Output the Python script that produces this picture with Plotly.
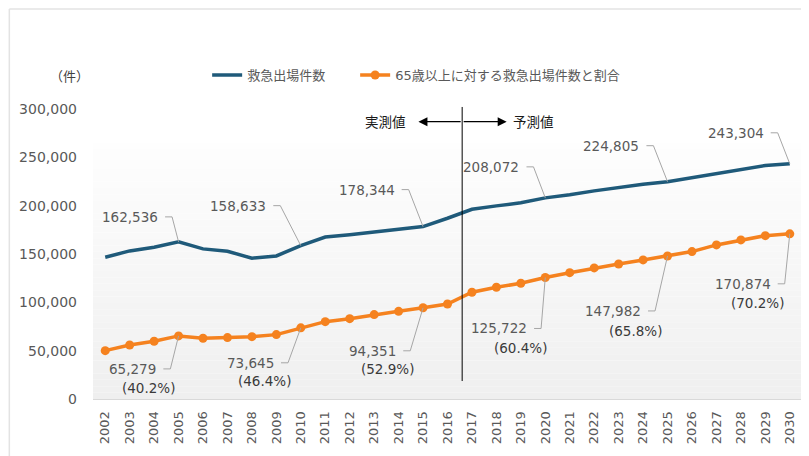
import plotly.graph_objects as go

# データ
years = list(range(2002, 2031))
total_calls = [146700, 153200, 157000, 162536, 155300, 152900, 145600, 148000, 158633, 167500,
               170000, 173000, 175600, 178344, 187000, 196300, 199800, 203000, 208072, 211200,
               215300, 219100, 222200, 224805, 229100, 233600, 238000, 241500, 243304]
elderly_calls = [50000, 55900, 59700, 65279, 62800, 63500, 64500, 66600, 73645, 80000,
                 83100, 87300, 90700, 94351, 98300, 110400, 115600, 119700, 125722, 130700,
                 135600, 139700, 143900, 147982, 152500, 159400, 164600, 169000, 170874]
label_years = [2005, 2010, 2015, 2020, 2025, 2030]
elderly_share = [40.2, 46.4, 52.9, 60.4, 65.8, 70.2]
y_ticks = [0, 50000, 100000, 150000, 200000, 250000, 300000]

BLUE = "#1f5a7a"
ORANGE = "#f5821f"
GRAY_TXT = "#595959"
LEADER = "#a6a6a6"
FONT = "DejaVu Sans, Noto Sans CJK JP"

# ラベル位置 (点からのピクセルずれ: 右端x, 中心y)
total_label_pos = [(-18.5, 25), (-32.5, 40), (-26.4, 37), (-23.8, 31), (-26.1, 36), (-24.1, 31)]
elderly_label_pos = [(-20.2, -33), (-24.8, -35), (-24.8, -43), (-16.2, -51), (-24.5, -55), (-17.1, -50)]
share_label_pos = [(-30.3, -52), (-36, -53), (-35.1, -61), (-25.2, -71), (-31.8, -75), (-32.3, -69)]

fig = go.Figure()

fig.add_trace(go.Scatter(
    x=years, y=total_calls, name="救急出場件数", mode="lines",
    line=dict(color=BLUE, width=3.5), legendwidth=103,
))
fig.add_trace(go.Scatter(
    x=years, y=elderly_calls, name="65歳以上に対する救急出場件数と割合", mode="lines+markers",
    line=dict(color=ORANGE, width=3.5), marker=dict(color=ORANGE, size=9),
))

shapes = []
# 背景のグラデーション
n_strips = 40
top = 0.883
for i in range(n_strips):
    g = int(round(254 - (254 - 239) * (i + 0.5) / n_strips))
    shapes.append(dict(
        type="rect", xref="paper", yref="paper", layer="below",
        x0=0, x1=1, y0=top - top * (i + 1) / n_strips, y1=top - top * i / n_strips,
        fillcolor=f"rgb({g},{g},{g})", line=dict(width=0),
    ))

# 外枠
shapes.append(dict(type="line", xref="paper", yref="paper", x0=-0.118, x1=1.02, y0=1.345, y1=1.345,
                   line=dict(color="#e3e3e3", width=1.5)))
shapes.append(dict(type="line", xref="paper", yref="paper", x0=-0.118, x1=-0.118, y0=-0.2, y1=1.345,
                   line=dict(color="#e3e3e3", width=1.5)))

# 実測値/予測値の境界線
split_x = 2016.6
shapes.append(dict(type="line", xref="x", yref="paper", x0=split_x, x1=split_x, y0=0.062, y1=1.007,
                   line=dict(color="black", width=1)))

annotations = []


def add_label(year, value, dx, dy, text, color, anchor="right", leader=True):
    annotations.append(dict(
        x=year, y=value, xref="x", yref="y", text=text, showarrow=False,
        xanchor=anchor, yanchor="middle", xshift=dx, yshift=dy,
        font=dict(size=13.5, color=color, family=FONT),
    ))
    if leader:
        shapes.append(dict(
            type="path", xref="x", yref="y", xsizemode="pixel", ysizemode="pixel",
            xanchor=year, yanchor=value,
            path=f"M {dx + 5},{dy} L {dx + 12},{dy} L 0,0",
            line=dict(color=LEADER, width=1),
        ))


for k, yr in enumerate(label_years):
    idx = years.index(yr)
    v = total_calls[idx]
    dx, dy = total_label_pos[k]
    add_label(yr, v, dx, dy, f"{v:,}", GRAY_TXT)
    v2 = elderly_calls[idx]
    dx, dy = elderly_label_pos[k]
    add_label(yr, v2, dx, dy, f"{v2:,}", GRAY_TXT)
    dx, dy = share_label_pos[k]
    add_label(yr, v2, dx, dy, f"({elderly_share[k]}%)", "#3a3a3a", anchor="center", leader=False)

# 矢印
arrow_y = 286900
for tip in [2014.81, 2018.42]:
    annotations.append(dict(
        x=tip, y=arrow_y, ax=split_x, ay=arrow_y, xref="x", yref="y", axref="x", ayref="y",
        text="", showarrow=True, arrowhead=2, arrowsize=1.5, arrowwidth=1.2, arrowcolor="black",
    ))
annotations.append(dict(x=2014.81, y=arrow_y, xref="x", yref="y", text="実測値", showarrow=False,
                        xanchor="right", xshift=-10, font=dict(size=13.5, color="#1a1a1a", family=FONT)))
annotations.append(dict(x=2018.42, y=arrow_y, xref="x", yref="y", text="予測値", showarrow=False,
                        xanchor="left", xshift=4, font=dict(size=13.5, color="#1a1a1a", family=FONT)))

# 単位
annotations.append(dict(x=-0.0635, y=1.146, xref="paper", yref="paper", text="（件）", showarrow=False,
                        font=dict(size=13, color="#404040", family=FONT)))

# ページ余白(8px)の分だけ図を小さくする
fig.update_layout(
    width=801, height=448,
    margin=dict(l=85, r=7, t=101, b=57),
    paper_bgcolor="white", plot_bgcolor="white",
    font=dict(family=FONT, color=GRAY_TXT),
    showlegend=True,
    legend=dict(orientation="h", x=0.161, xanchor="left", y=1.117, yanchor="middle",
                font=dict(size=13, color=GRAY_TXT), bgcolor="rgba(0,0,0,0)"),
    shapes=shapes,
    annotations=annotations,
)
fig.update_xaxes(
    range=[2001.5, 2030.5], tickmode="array", tickvals=years, ticktext=[str(y) for y in years],
    tickangle=-90, tickfont=dict(size=13, color=GRAY_TXT), showgrid=False, zeroline=False,
    showline=True, linecolor="#d9d9d9", linewidth=1, ticklabelstandoff=6,
)
fig.update_yaxes(
    range=[0, 300000], tickmode="array", tickvals=y_ticks, ticktext=[f"{v:,}" for v in y_ticks],
    tickfont=dict(size=14, color=GRAY_TXT), showgrid=False, zeroline=False, showline=False,
    ticklabelstandoff=15,
)

fig.write_html("out.html")
